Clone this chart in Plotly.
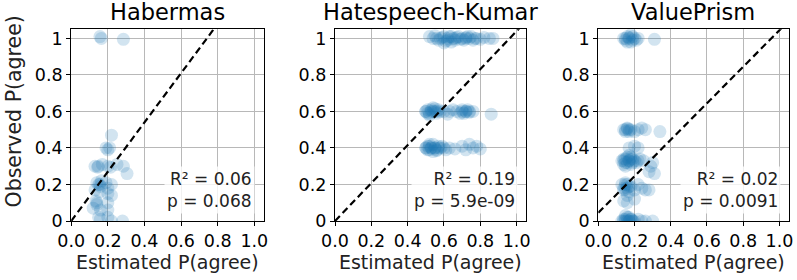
import plotly.graph_objects as go

# ---------------- data ----------------
panel_titles = ["Habermas", "Hatespeech-Kumar", "ValuePrism"]
y_label = "Observed P(agree)"
x_label = "Estimated P(agree)"
r2_labels = ["R² = 0.06", "R² = 0.19", "R² = 0.02"]
p_labels = ["p = 0.068", "p = 5.9e-09", "p = 0.0091"]
fit_intercepts = [0.0, 0.0, 0.045]
fit_slopes = [1.35, 1.04, 1.0]

habermas_x = [0.157, 0.165, 0.285, 0.22, 0.19, 0.21, 0.20, 0.13, 0.148, 0.17,
              0.20, 0.215, 0.25, 0.285, 0.305, 0.14, 0.155, 0.165, 0.19, 0.22,
              0.20, 0.13, 0.155, 0.22, 0.20, 0.135, 0.14, 0.12, 0.20, 0.16,
              0.20, 0.15, 0.16, 0.20, 0.22, 0.28, 0.15, 0.14, 0.145, 0.16]
habermas_y = [1.01, 1.0, 0.995, 0.47, 0.40, 0.40, 0.39, 0.30, 0.30, 0.31,
              0.30, 0.295, 0.31, 0.30, 0.26, 0.21, 0.20, 0.22, 0.21, 0.20,
              0.18, 0.17, 0.16, 0.14, 0.15, 0.11, 0.09, 0.07, 0.10, 0.06,
              0.06, 0.02, 0.01, 0.02, 0.0, 0.0, 0.2, 0.10, 0.295, 0.19]

hate_x = [0.52, 0.54, 0.55, 0.57, 0.58, 0.60, 0.61, 0.62, 0.63, 0.65, 0.66, 0.67,
          0.68, 0.70, 0.71, 0.72, 0.74, 0.75, 0.77, 0.80, 0.82, 0.85, 0.87, 0.60, 0.64,
          0.56, 0.59, 0.62, 0.64, 0.66, 0.69, 0.72, 0.73, 0.76, 0.78,
          0.50, 0.51, 0.52, 0.53, 0.54, 0.55, 0.56, 0.57, 0.58, 0.60, 0.62, 0.63,
          0.65, 0.67, 0.69, 0.70, 0.72, 0.73, 0.74, 0.76, 0.86, 0.52, 0.55,
          0.50, 0.51, 0.53, 0.54, 0.56, 0.70, 0.71, 0.72, 0.74,
          0.50, 0.51, 0.52, 0.53, 0.54, 0.55, 0.56, 0.57, 0.58, 0.60, 0.61, 0.63,
          0.66, 0.70, 0.72, 0.74, 0.76, 0.78, 0.80, 0.52, 0.56,
          0.50, 0.51, 0.52, 0.53, 0.54, 0.55, 0.57, 0.59]
hate_y = [1.01, 1.0, 1.015, 0.99, 1.0, 1.01, 0.985, 1.0, 1.01, 1.0, 0.99, 1.005,
          1.01, 1.0, 0.99, 1.005, 1.0, 1.01, 1.0, 0.995, 1.005, 1.0, 1.0, 0.975, 0.98,
          1.0, 1.005, 0.99, 1.01, 1.0, 0.995, 1.0, 1.01, 0.99, 1.0,
          0.60, 0.61, 0.59, 0.60, 0.62, 0.60, 0.59, 0.61, 0.60, 0.60, 0.585, 0.60,
          0.61, 0.60, 0.59, 0.60, 0.60, 0.61, 0.595, 0.60, 0.585, 0.58, 0.615,
          0.60, 0.59, 0.61, 0.60, 0.60, 0.61, 0.59, 0.60, 0.60,
          0.40, 0.41, 0.39, 0.40, 0.42, 0.40, 0.39, 0.41, 0.40, 0.40, 0.39, 0.40,
          0.395, 0.41, 0.39, 0.42, 0.40, 0.41, 0.395, 0.42, 0.385,
          0.40, 0.39, 0.41, 0.40, 0.38, 0.40, 0.40, 0.41]

vp_x = [0.14, 0.15, 0.16, 0.17, 0.18, 0.19, 0.20, 0.21, 0.22, 0.31, 0.16, 0.18,
        0.15, 0.17, 0.19,
        0.14, 0.15, 0.16, 0.17, 0.18, 0.20, 0.22, 0.24, 0.26, 0.34, 0.16,
        0.15, 0.17,
        0.17, 0.20, 0.22,
        0.13, 0.14, 0.15, 0.16, 0.17, 0.18, 0.19, 0.20, 0.21, 0.22, 0.23, 0.25,
        0.15, 0.17, 0.29, 0.30, 0.28, 0.31, 0.14, 0.18,
        0.14, 0.15, 0.16, 0.17, 0.18, 0.19,
        0.13, 0.14, 0.15, 0.16, 0.17, 0.18, 0.20, 0.22, 0.24, 0.26, 0.28, 0.15, 0.16,
        0.14, 0.15, 0.16, 0.17,
        0.14, 0.16, 0.20,
        0.13, 0.14, 0.15, 0.16, 0.17, 0.18, 0.19, 0.20, 0.22, 0.24, 0.26, 0.30, 0.15, 0.17,
        0.14, 0.15, 0.16, 0.17, 0.18, 0.19]
vp_y = [1.0, 0.99, 1.01, 1.0, 0.98, 1.01, 1.0, 0.99, 1.0, 0.995, 0.98, 1.02,
        1.0, 1.005, 0.99,
        0.50, 0.49, 0.51, 0.50, 0.50, 0.49, 0.50, 0.51, 0.50, 0.49, 0.505,
        0.50, 0.49,
        0.40, 0.41, 0.40,
        0.33, 0.34, 0.32, 0.35, 0.33, 0.31, 0.34, 0.33, 0.32, 0.33, 0.34, 0.33,
        0.30, 0.36, 0.30, 0.32, 0.27, 0.26, 0.31, 0.35,
        0.33, 0.34, 0.32, 0.33, 0.34, 0.32,
        0.20, 0.18, 0.17, 0.20, 0.16, 0.19, 0.17, 0.20, 0.18, 0.17, 0.17, 0.21, 0.14,
        0.17, 0.20, 0.18, 0.19,
        0.11, 0.10, 0.12,
        0.0, 0.01, 0.0, 0.02, 0.0, 0.01, 0.0, 0.0, 0.01, 0.0, 0.0, 0.0, 0.03, 0.02,
        0.0, 0.01, 0.0, 0.0, 0.01, 0.0]

xs = [habermas_x, hate_x, vp_x]
ys = [habermas_y, hate_y, vp_y]

tick_vals = [0, 0.2, 0.4, 0.6, 0.8, 1.0]
x_tick_text = ["0.0", "0.2", "0.4", "0.6", "0.8", "1.0"]
y_tick_text = ["0", "0.2", "0.4", "0.6", "0.8", "1"]
axis_max = 1.05

# ---------------- layout geometry ----------------
W, H = 797, 280
x_domains = [[71.2 / W, 263.5 / W], [335.0 / W, 525.7 / W], [598.3 / W, 788.5 / W]]
y_domain = [(H - 221.0) / H, (H - 29.3) / H]

FONT = "DejaVu Sans"
TICK_SIZE = 17.5
LABEL_SIZE = 19
YLABEL_SIZE = 20.5
TITLE_SIZE = 22.5
ANN_SIZE = 17

fig = go.Figure()

for i in range(3):
    xa = "x" if i == 0 else f"x{i + 1}"
    ya = "y" if i == 0 else f"y{i + 1}"
    fig.add_trace(go.Scatter(
        x=xs[i], y=ys[i], mode="markers", xaxis=xa, yaxis=ya,
        marker=dict(size=13, color="rgba(31,119,180,0.2)", line=dict(width=0)),
        showlegend=False, hoverinfo="skip"))
    lx = [0.0, axis_max]
    ly = [fit_intercepts[i] + fit_slopes[i] * v for v in lx]
    fig.add_trace(go.Scatter(
        x=lx, y=ly, mode="lines", xaxis=xa, yaxis=ya,
        line=dict(color="black", width=2.2, dash="7px,4px"),
        showlegend=False, hoverinfo="skip"))

    axis_common = dict(
        range=[0, axis_max], showgrid=True, gridcolor="#b8b8b8", gridwidth=1,
        showline=True, linecolor="black", linewidth=1.2, mirror=True,
        ticks="outside", ticklen=4, tickcolor="black", tickwidth=1.2,
        tickvals=tick_vals, zeroline=False, automargin=False,
        tickfont=dict(family=FONT, size=TICK_SIZE, color="black"),
    )
    xkey = "xaxis" if i == 0 else f"xaxis{i + 1}"
    ykey = "yaxis" if i == 0 else f"yaxis{i + 1}"
    fig.update_layout({
        xkey: dict(axis_common, domain=x_domains[i], ticktext=x_tick_text,
                   anchor=ya,
                   title=dict(text=x_label, standoff=2,
                              font=dict(family=FONT, size=LABEL_SIZE, color="#222"))),
        ykey: dict(axis_common, domain=y_domain, ticktext=y_tick_text,
                   anchor=xa),
    })

    cx = (x_domains[i][0] + x_domains[i][1]) / 2
    fig.add_annotation(x=cx, y=(H - 12) / H, xref="paper", yref="paper",
                       text=panel_titles[i], showarrow=False,
                       xanchor="center", yanchor="middle",
                       font=dict(family=FONT, size=TITLE_SIZE, color="black"))
    fig.add_annotation(x=0.958, y=0.16,
                       xref=f"{xa} domain", yref=f"{ya} domain",
                       text=r2_labels[i] + "<br>" + p_labels[i], showarrow=False,
                       xanchor="right", yanchor="middle", align="right",
                       bgcolor="rgba(255,255,255,0.8)", borderpad=2,
                       font=dict(family=FONT, size=ANN_SIZE, color="#222"))

# y-axis label of the first panel
fig.add_annotation(x=13.5 / W, y=(H - 112) / H, xref="paper", yref="paper",
                   text=y_label, textangle=-90, showarrow=False,
                   xanchor="center", yanchor="middle",
                   font=dict(family=FONT, size=YLABEL_SIZE, color="#222"))

fig.update_layout(
    width=W, height=H, margin=dict(l=0, r=0, t=0, b=0),
    paper_bgcolor="white", plot_bgcolor="white",
    font=dict(family=FONT, color="black"),
)

fig.write_html("out.html", config={"displayModeBar": False},
               post_script="document.body.style.margin='0px';document.body.style.overflow='hidden';")
